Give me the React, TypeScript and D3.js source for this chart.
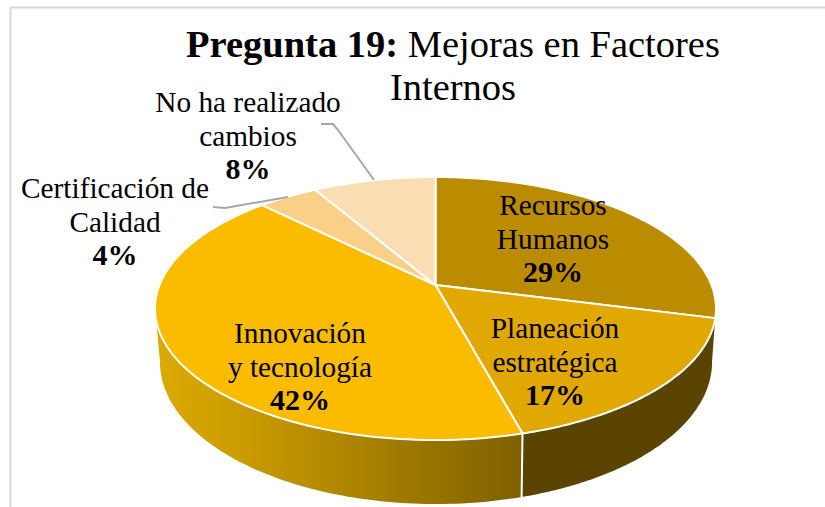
import React from "react";
import * as d3 from "d3";

const categories = ["Recursos Humanos", "Planeación estratégica", "Innovación y tecnología", "Certificación de Calidad", "No ha realizado cambios"];
const values = [29, 16.8, 41.7, 4.1, 8.4];
const percentLabels = ["29%", "17%", "42%", "4%", "8%"];
const topColors = ["#BC8C00", "#E0A800", "#FBBC00", "#FACF87", "#FBDDB3"];
const labelLines = [["Recursos", "Humanos"], ["Planeación", "estratégica"], ["Innovación", "y tecnología"], ["Certificación de", "Calidad"], ["No ha realizado", "cambios"]];
const labelX = [553, 555, 300, 115, 248];
const labelY = [215, 338, 343, 198, 112];
const LH = 34;
const FONT = "'Liberation Serif', 'Times New Roman', serif";

const W = 825, H = 507;
const k = 0.1787;
const topRim = { x0: 435.5, y0: 285, A: 276, B: 127.3 };
const botRim = { x0: 436, y0: 336.6, A: 271.6, B: 137.5 };

type Rim = typeof topRim;
const project = (r: Rim, t: number): [number, number] => {
  const X = Math.sin(t), Y = -Math.cos(t), w = 1 - k * Y;
  return [r.x0 + (r.A * X) / w, r.y0 + (r.B * Y) / w];
};
const line = d3.line<[number, number]>().x(d => d[0]).y(d => d[1]);
const arcPts = (r: Rim, a: number, b: number) =>
  d3.range(0, 91).map(i => project(r, a + ((b - a) * i) / 90));

const pie = d3.pie<number>().sort(null).value(d => d);
const arcs = pie(values);

const wall = (a: number, b: number) =>
  line([...arcPts(topRim, a, b), ...arcPts(botRim, b, a)]) + "Z";

const rad = (deg: number) => (deg * Math.PI) / 180;

export default function App() {
  const split = arcs[1].endAngle;
  return (
    <svg width={W} height={H} viewBox={`0 0 ${W} ${H}`} style={{ position: "absolute", left: 0, top: 0, background: "#fff" }} fontFamily={FONT}>
      <defs>
        <linearGradient id="wallL" gradientUnits="userSpaceOnUse" x1={160} x2={522} y1={0} y2={0}>
          <stop offset="0" stopColor="#DCA900" />
          <stop offset="0.25" stopColor="#C89A00" />
          <stop offset="1" stopColor="#7F6000" />
        </linearGradient>
      </defs>
      <path d={`M10.5 ${H}V7.5H${W}`} fill="none" stroke="#D9D9D9" strokeWidth={2} />
      <path d={wall(split, rad(260))} fill="url(#wallL)" />
      <path d={wall(rad(100), split)} fill="#5B4400" />
      {(() => {
        const [a, b] = [project(topRim, split), project(botRim, split)];
        return <line x1={a[0]} y1={a[1]} x2={b[0]} y2={b[1]} stroke="#fff" strokeWidth={2} />;
      })()}
      {arcs.map((d, i) => (
        <path key={categories[i]}
          d={line([[topRim.x0, topRim.y0], ...arcPts(topRim, d.startAngle, d.endAngle)]) + "Z"}
          fill={topColors[i]} stroke="#fff" strokeWidth={2} strokeLinejoin="round" />
      ))}
      <path d="M321 124H333L338 130L374 180" fill="none" stroke="#A6A6A6" strokeWidth={2} />
      <path d="M213 207L225 208L288 197" fill="none" stroke="#A6A6A6" strokeWidth={2} />
      <text x={453} y={57} textAnchor="middle" fontSize={38.5} fill="#000">
        <tspan fontWeight="bold">Pregunta 19:</tspan> Mejoras en Factores
      </text>
      <text x={453} y={100} textAnchor="middle" fontSize={38.5} fill="#000">Internos</text>
      {categories.map((c, i) => (
        <text key={c} textAnchor="middle" fill="#000" fontSize={29.3}>
          {labelLines[i].map((l, j) => (
            <tspan key={l} x={labelX[i]} y={labelY[i] + j * LH}>{l}</tspan>
          ))}
          <tspan x={labelX[i]} y={labelY[i] + 2 * LH - 1} fontWeight="bold" fontSize={30}>{percentLabels[i]}</tspan>
        </text>
      ))}
    </svg>
  );
}
